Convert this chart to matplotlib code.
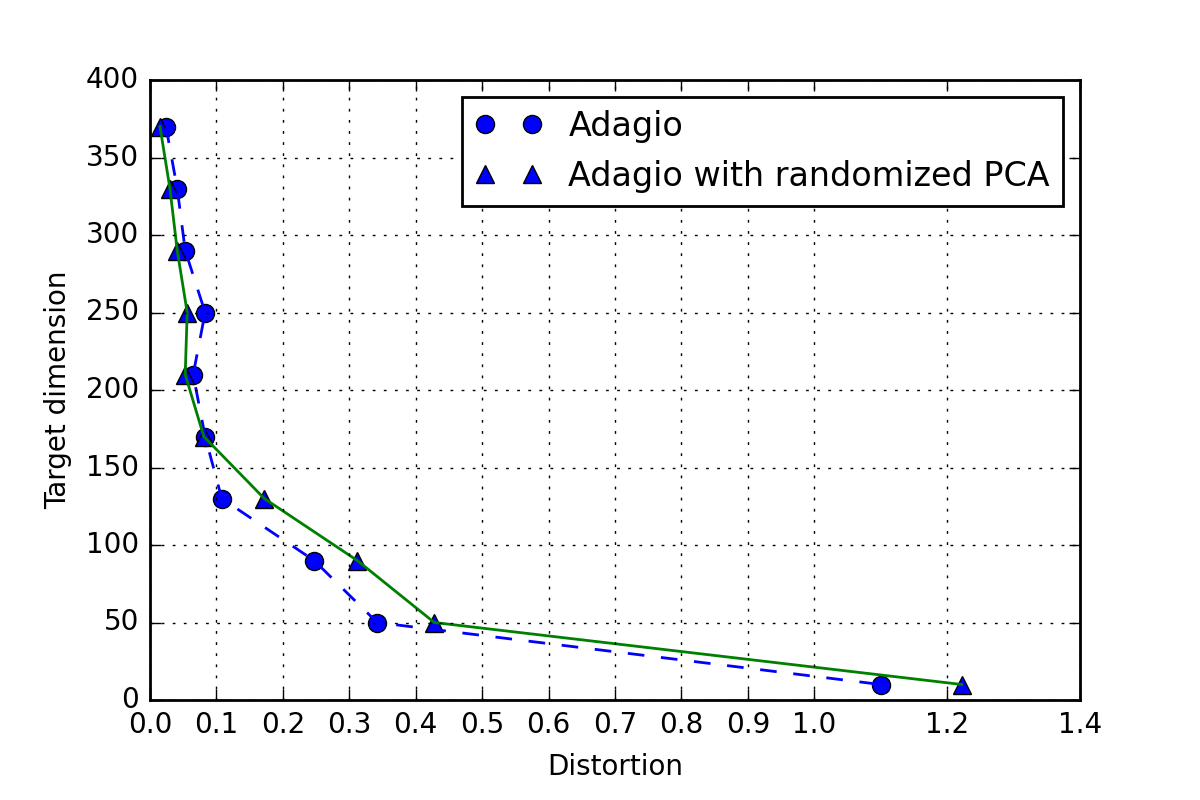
import matplotlib
matplotlib.use("Agg")
import matplotlib.pyplot as plt

# =====================================================
# DATA
# =====================================================
dims = [370, 330, 290, 250, 210, 170, 130, 90, 50, 10]
adagio = [0.024, 0.041, 0.053, 0.083, 0.065, 0.083, 0.108, 0.247, 0.342, 1.100]
adagio_rpca = [0.015, 0.030, 0.041, 0.056, 0.053, 0.081, 0.172, 0.312, 0.428, 1.222]

xticks = [0.0, 0.1, 0.2, 0.3, 0.4, 0.5, 0.6, 0.7, 0.8, 0.9, 1.0, 1.2, 1.4]

# =====================================================
# PLOTTING
# =====================================================
plt.style.use("classic")
plt.rcParams["font.size"] = 10
fig, ax = plt.subplots(figsize=(6, 4), dpi=200)
fig.patch.set_facecolor("white")
fig.subplots_adjust(left=0.125, right=0.9, bottom=0.125, top=0.9)

ax.plot(adagio, dims, "bo", label="Adagio", markersize=6.5)
ax.plot(adagio_rpca, dims, "b^", label="Adagio with randomized PCA", markersize=6.5)
ax.plot(adagio, dims, "b--", dashes=(6, 6))
ax.plot(adagio_rpca, dims, "g-")

ax.set_xticks(xticks)
ax.set_xlim(0, 1.4)
ax.set_ylim(0, 400)
ax.set_xlabel("Distortion")
ax.set_ylabel("Target dimension")
ax.grid(True)
ax.legend(loc="upper right", fontsize=12)

fig.savefig("out.png", dpi=200, facecolor="white")
